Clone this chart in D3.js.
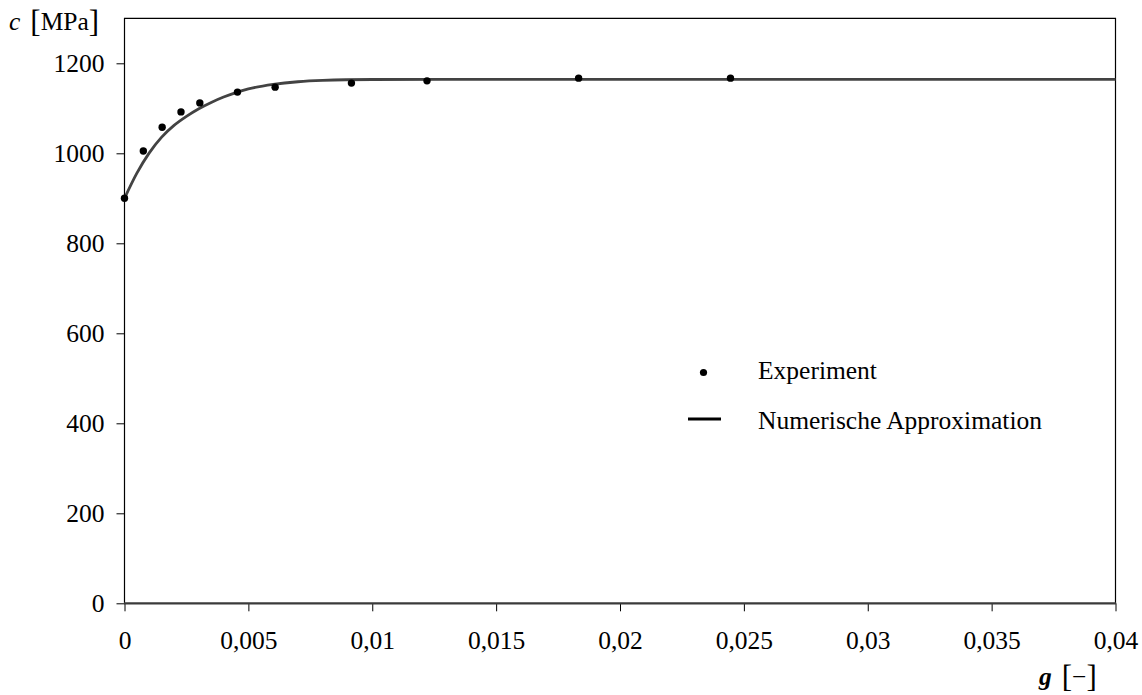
<!DOCTYPE html>
<html>
<head>
<meta charset="utf-8">
<script src="https://cdn.jsdelivr.net/npm/d3@7"></script>
<style>
  html, body { margin: 0; padding: 0; background: #fff; }
  svg { display: block; font-family: "Liberation Serif", "Times New Roman", serif; }
</style>
</head>
<body>
<svg id="chart" width="1142" height="695"></svg>
<script>
// Measured flow stress over strain
const strainExp = [0, 0.00076, 0.00152, 0.00228, 0.00304, 0.00456, 0.00608, 0.00916, 0.01221, 0.01833, 0.02446];
const stressExp = [900, 1005, 1058, 1092, 1112, 1136, 1147, 1156, 1161, 1167, 1167];

// Fitted curve (sampled)
const strainFit = [0, 0.0005, 0.001, 0.0015, 0.002, 0.0025, 0.003, 0.0035, 0.004, 0.0045, 0.005, 0.006, 0.007, 0.008, 0.01, 0.015, 0.02, 0.03, 0.04];
const stressFit = [900, 956, 1001, 1036, 1062, 1082, 1099, 1113, 1125, 1135, 1143, 1153, 1159, 1162, 1164, 1164.5, 1164.5, 1164.5, 1164.5];

const xTicks = [0, 0.005, 0.01, 0.015, 0.02, 0.025, 0.03, 0.035, 0.04];
const yTicks = [0, 200, 400, 600, 800, 1000, 1200];

const legendLabels = ["Experiment", "Numerische Approximation"];

const FONT = "'Liberation Serif', 'Times New Roman', serif";
const FS = 25.5;

const svg = d3.select("#chart");
const plotLeft = 124.5, plotRight = 1115.5, plotTop = 18.3, plotBottom = 603.3;

const x = d3.scaleLinear().domain([0, 0.04]).range([plotLeft, plotRight]);
const y = d3.scaleLinear().domain([0, 1300]).range([plotBottom, plotTop]);

const fmt = d => d === 0 ? "0" : String(+d.toFixed(4)).replace(".", ",");

// y axis ticks and labels
const yAxis = svg.append("g")
  .attr("transform", `translate(${plotLeft},0)`)
  .call(d3.axisLeft(y).tickValues(yTicks).tickSize(8).tickPadding(12).tickFormat(d => d));
yAxis.select(".domain").remove();
yAxis.attr("font-family", FONT).attr("font-size", FS);
yAxis.selectAll(".tick line").attr("stroke", "#000").attr("stroke-width", 1);
yAxis.selectAll(".tick text").attr("fill", "#000");

// x axis ticks and labels
const xAxis = svg.append("g")
  .attr("transform", `translate(0,${plotBottom})`)
  .call(d3.axisBottom(x).tickValues(xTicks).tickSize(8).tickPadding(20).tickFormat(fmt));
xAxis.select(".domain").remove();
xAxis.attr("font-family", FONT).attr("font-size", FS);
xAxis.selectAll(".tick line").attr("stroke", "#000").attr("stroke-width", 1);
xAxis.selectAll(".tick text").attr("fill", "#000");

// plot frame: left, top, right in thin black, bottom as heavier grey line
svg.append("path")
  .attr("d", `M${plotLeft},${plotBottom} V${plotTop} H${plotRight} V${plotBottom}`)
  .attr("fill", "none").attr("stroke", "#000").attr("stroke-width", 1.2);
svg.append("line")
  .attr("x1", plotLeft - 0.5).attr("x2", plotRight + 0.6)
  .attr("y1", plotBottom).attr("y2", plotBottom)
  .attr("stroke", "#3a3a3a").attr("stroke-width", 2.2);

// fitted curve
const line = d3.line()
  .x((d, i) => x(strainFit[i]))
  .y((d, i) => y(stressFit[i]))
  .curve(d3.curveMonotoneX);
svg.append("path")
  .datum(stressFit)
  .attr("d", line)
  .attr("fill", "none")
  .attr("stroke", "#434343")
  .attr("stroke-width", 2.8);

// experimental points
svg.append("g").selectAll("circle")
  .data(stressExp)
  .join("circle")
  .attr("cx", (d, i) => x(strainExp[i]))
  .attr("cy", d => y(d))
  .attr("r", 3.7)
  .attr("fill", "#000");

// legend
const lg = svg.append("g").attr("font-family", FONT).attr("font-size", FS);
lg.append("circle").attr("cx", 703.5).attr("cy", 372.5).attr("r", 3.6).attr("fill", "#000");
lg.append("line").attr("x1", 688).attr("x2", 721).attr("y1", 419).attr("y2", 419)
  .attr("stroke", "#000").attr("stroke-width", 2.8);
lg.selectAll("text")
  .data(legendLabels)
  .join("text")
  .attr("x", 758)
  .attr("y", (d, i) => i === 0 ? 378.5 : 428.5)
  .attr("fill", "#000")
  .text(d => d);

// axis titles
const yt = svg.append("text").attr("x", 9).attr("y", 29.5)
  .attr("font-family", FONT).attr("font-size", FS).attr("fill", "#000");
yt.append("tspan").attr("font-style", "italic").text("c");
yt.append("tspan").attr("dx", 10).attr("font-size", 31).attr("dy", 2).text("[");
yt.append("tspan").attr("dy", -2).text("MPa");
yt.append("tspan").attr("font-size", 31).attr("dy", 2).text("]");

const xt = svg.append("text").attr("x", 1039).attr("y", 684.5)
  .attr("font-family", FONT).attr("font-size", FS).attr("fill", "#000");
xt.append("tspan").attr("font-style", "italic").attr("font-weight", "bold").text("g");
xt.append("tspan").attr("dx", 10).attr("font-size", 31).attr("dy", 2).text("[");
xt.append("tspan").attr("dy", -2).text("−");
xt.append("tspan").attr("font-size", 31).attr("dy", 2).text("]");
</script>
</body>
</html>
